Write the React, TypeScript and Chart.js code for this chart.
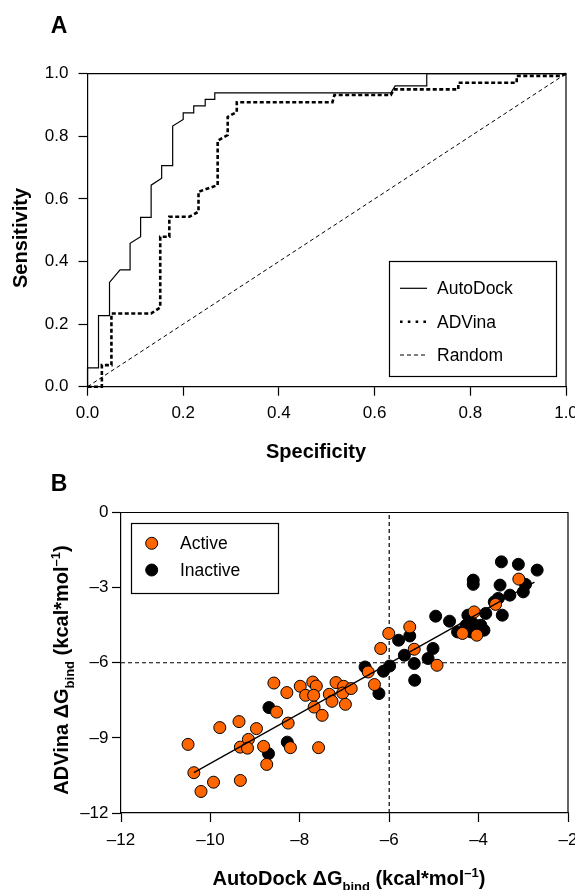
import React, { useEffect, useRef } from "react";
import { Chart, registerables } from "chart.js";

Chart.register(...registerables);

const FONT = "'Liberation Sans', Arial, Helvetica, sans-serif";

// ---- Panel A: ROC curves ----
const autodockSpec = [0, 0, 0.023, 0.023, 0.046, 0.046, 0.068, 0.089, 0.089, 0.111, 0.111, 0.133, 0.133, 0.155, 0.155, 0.178, 0.178, 0.2, 0.2, 0.222, 0.222, 0.246, 0.246, 0.266, 0.266, 0.634, 0.643, 0.709, 0.709, 1.0];
const autodockSens = [0, 0.06, 0.06, 0.227, 0.227, 0.333, 0.373, 0.373, 0.458, 0.479, 0.541, 0.541, 0.644, 0.666, 0.706, 0.706, 0.833, 0.854, 0.875, 0.875, 0.897, 0.897, 0.918, 0.918, 0.939, 0.939, 0.961, 0.961, 1.0, 1.0];
const advinaSpec = [0, 0.03, 0.03, 0.05, 0.05, 0.133, 0.152, 0.152, 0.171, 0.171, 0.213, 0.232, 0.232, 0.272, 0.272, 0.293, 0.293, 0.312, 0.312, 0.512, 0.516, 0.634, 0.64, 0.775, 0.775, 0.897, 0.897, 0.99, 1.0];
const advinaSens = [0, 0, 0.069, 0.069, 0.234, 0.234, 0.253, 0.479, 0.479, 0.543, 0.543, 0.559, 0.623, 0.644, 0.786, 0.804, 0.862, 0.878, 0.909, 0.909, 0.932, 0.932, 0.95, 0.95, 0.971, 0.971, 0.993, 0.993, 1.0];
const randomSpec = [0, 1];
const randomSens = [0, 1];
const rocTicks = [0, 0.2, 0.4, 0.6, 0.8, 1.0];
const rocLegend = ["AutoDock", "ADVina", "Random"];

// ---- Panel B: binding free energies (kcal/mol) ----
const activeAutoDock = [-10.5, -10.37, -10.21, -9.93, -9.79, -9.36, -9.33, -9.33, -9.15, -9.17, -8.97, -8.81, -8.74, -8.58, -8.52, -8.29, -8.26, -8.21, -7.99, -7.87, -7.71, -7.63, -7.69, -7.68, -7.5, -7.58, -7.34, -7.28, -7.19, -7.02, -7.04, -6.98, -6.85, -6.47, -6.33, -6.19, -6.01, -5.54, -5.44, -4.93, -4.36, -4.04, -4.1, -3.62, -3.1];
const activeVina = [-9.26, -10.39, -11.14, -10.77, -8.59, -8.35, -10.7, -9.37, -9.06, -9.41, -8.63, -9.34, -10.06, -6.81, -7.97, -7.19, -8.41, -9.39, -6.94, -7.3, -6.77, -6.93, -7.3, -7.77, -8.1, -9.39, -7.26, -7.54, -6.79, -6.94, -7.21, -7.66, -7.03, -6.37, -6.87, -5.43, -4.83, -4.57, -5.46, -6.1, -4.83, -4.9, -3.97, -3.67, -2.66];
const inactiveAutoDock = [-8.69, -8.7, -8.28, -6.54, -6.23, -6.13, -5.99, -5.79, -5.54, -5.66, -5.44, -5.43, -5.02, -5.13, -4.96, -4.65, -4.47, -4.24, -4.13, -3.95, -3.88, -3.84, -3.47, -3.65, -3.56, -3.3, -3.0, -2.95, -3.52, -4.12, -4.12, -3.49, -3.11, -2.69, -4.28, -4.17];
const inactiveVina = [-7.79, -9.63, -9.17, -6.17, -7.23, -6.34, -6.13, -5.1, -4.93, -5.7, -6.03, -6.7, -5.43, -5.83, -4.14, -4.34, -4.77, -4.1, -4.43, -4.5, -4.7, -4.03, -4.1, -3.57, -3.43, -3.3, -3.17, -2.87, -2.9, -2.7, -2.87, -1.97, -2.07, -2.3, -4.5, -4.77];
const fitAutoDock = [-10.37, -2.75];
const fitVina = [-10.39, -2.78];
const cutoff = -6;
const dgTicksX = [-12, -10, -8, -6, -4, -2];
const dgTicksY = [-12, -9, -6, -3, 0];
const dgLegend = ["Active", "Inactive"];

const ORANGE = "#ff6600";

const zip = (xs: number[], ys: number[]) => xs.map((x, i) => ({ x, y: ys[i] }));
const dash = (v: number) => String(v).replace("-", "\u2013");

type Part = { t: string; size: number; dy: number };

function drawRich(ctx: CanvasRenderingContext2D, parts: Part[], cx: number, cy: number, rotate: boolean) {
  ctx.save();
  ctx.fillStyle = "#000";
  ctx.textBaseline = "alphabetic";
  ctx.textAlign = "left";
  let total = 0;
  const widths = parts.map((p) => {
    ctx.font = `bold ${p.size}px ${FONT}`;
    const w = ctx.measureText(p.t).width;
    total += w;
    return w;
  });
  ctx.translate(cx, cy);
  if (rotate) ctx.rotate(-Math.PI / 2);
  let x = -total / 2;
  parts.forEach((p, i) => {
    ctx.font = `bold ${p.size}px ${FONT}`;
    ctx.fillText(p.t, x, p.dy);
    x += widths[i];
  });
  ctx.restore();
}

function frame(ctx: CanvasRenderingContext2D, a: { left: number; top: number; right: number; bottom: number }) {
  ctx.save();
  ctx.strokeStyle = "#000";
  ctx.lineWidth = 1.2;
  ctx.beginPath();
  ctx.moveTo(a.left, a.top);
  ctx.lineTo(a.right, a.top);
  ctx.lineTo(a.right, a.bottom);
  ctx.stroke();
  ctx.restore();
}

const gridStyle = { display: true, drawOnChartArea: false, drawTicks: true, tickLength: 9, tickColor: "#000", tickWidth: 1.2 };
const borderStyle = { display: true, color: "#000", width: 1.2 };

// keep the plot area fixed: no extra room for overhanging end labels
const noSidePad = (s: any) => {
  s.paddingLeft = 0;
  s.paddingRight = 0;
};
const noEndPad = (s: any) => {
  s.paddingTop = 0;
  s.paddingBottom = 0;
};

function RocChart() {
  const ref = useRef<HTMLCanvasElement>(null);
  useEffect(() => {
    const canvas = ref.current!;
    const deco = {
      id: "rocDeco",
      afterDraw(chart: any) {
        const ctx = chart.ctx as CanvasRenderingContext2D;
        frame(ctx, chart.chartArea);
        // legend
        ctx.save();
        ctx.strokeStyle = "#000";
        ctx.lineWidth = 1.2;
        ctx.strokeRect(389.5, 261.5, 167, 115);
        const rows = [288.3, 321.7, 355];
        const styles = [
          { w: 1.2, d: [] as number[] },
          { w: 2.6, d: [2.6, 5.2] },
          { w: 1, d: [4, 3] },
        ];
        rocLegend.forEach((label, i) => {
          ctx.beginPath();
          ctx.lineWidth = styles[i].w;
          ctx.setLineDash(styles[i].d);
          ctx.moveTo(400, rows[i]);
          ctx.lineTo(427, rows[i]);
          ctx.stroke();
          ctx.setLineDash([]);
          ctx.fillStyle = "#000";
          ctx.font = `17.5px ${FONT}`;
          ctx.textBaseline = "middle";
          ctx.textAlign = "left";
          ctx.fillText(label, 437, rows[i] + 1);
        });
        ctx.restore();
        // panel letter and axis titles
        drawRich(ctx, [{ t: "A", size: 23, dy: 0 }], 59, 33, false);
        drawRich(ctx, [{ t: "Sensitivity", size: 20, dy: 0 }], 26.5, 238, true);
        drawRich(ctx, [{ t: "Specificity", size: 20, dy: 0 }], 316, 458, false);
      },
    };
    const chart = new Chart(canvas, {
      type: "scatter",
      data: {
        datasets: [
          { label: rocLegend[0], data: zip(autodockSpec, autodockSens), showLine: true, borderColor: "#000", borderWidth: 1.2, pointRadius: 0, clip: false } as any,
          { label: rocLegend[1], data: zip(advinaSpec, advinaSens), showLine: true, borderColor: "#000", borderWidth: 2.6, borderDash: [4, 2.5], pointRadius: 0, clip: false } as any,
          { label: rocLegend[2], data: zip(randomSpec, randomSens), showLine: true, borderColor: "#000", borderWidth: 1, borderDash: [4, 3], pointRadius: 0, clip: false } as any,
        ],
      },
      options: {
        animation: false,
        responsive: false,
        maintainAspectRatio: false,
        layout: { padding: { top: 73.7, right: 9, left: 0, bottom: 0 } },
        plugins: { legend: { display: false }, tooltip: { enabled: false } },
        events: [],
        scales: {
          x: {
            type: "linear",
            min: 0,
            max: 1,
            grid: gridStyle,
            border: borderStyle,
            afterBuildTicks: (s: any) => { s.ticks = rocTicks.map((v) => ({ value: v })); },
            afterFit: (s: any) => { s.height = 470 - 386.7; noSidePad(s); },
            ticks: { color: "#000", font: { family: FONT, size: 17 }, padding: 7, callback: (v: any) => Number(v).toFixed(1) },
          } as any,
          y: {
            type: "linear",
            min: 0,
            max: 1,
            grid: gridStyle,
            border: borderStyle,
            afterBuildTicks: (s: any) => { s.ticks = rocTicks.map((v) => ({ value: v })); },
            afterFit: (s: any) => { s.width = 87.5; noEndPad(s); },
            ticks: { color: "#000", font: { family: FONT, size: 17 }, padding: 10, callback: (v: any) => Number(v).toFixed(1) },
          } as any,
        },
      },
      plugins: [deco],
    });
    return () => chart.destroy();
  }, []);
  return <canvas ref={ref} width={575} height={470} style={{ position: "absolute", left: 0, top: 0, width: 575, height: 470 }} />;
}

function EnergyChart() {
  const ref = useRef<HTMLCanvasElement>(null);
  useEffect(() => {
    const canvas = ref.current!;
    const deco = {
      id: "dgDeco",
      afterDraw(chart: any) {
        const ctx = chart.ctx as CanvasRenderingContext2D;
        frame(ctx, chart.chartArea);
        // legend
        ctx.save();
        ctx.strokeStyle = "#000";
        ctx.lineWidth = 1.2;
        ctx.strokeRect(131.5, 53.5, 147, 70);
        const rows = [73.3, 100];
        const fills = [ORANGE, "#000"];
        dgLegend.forEach((label, i) => {
          ctx.beginPath();
          ctx.arc(151.7, rows[i], 6, 0, Math.PI * 2);
          ctx.fillStyle = fills[i];
          ctx.fill();
          ctx.lineWidth = 1;
          ctx.strokeStyle = "#000";
          ctx.stroke();
          ctx.fillStyle = "#000";
          ctx.font = `17.5px ${FONT}`;
          ctx.textBaseline = "middle";
          ctx.textAlign = "left";
          ctx.fillText(label, 180, rows[i] + 1);
        });
        ctx.restore();
        drawRich(ctx, [{ t: "B", size: 23, dy: 0 }], 59, 21, false);
        drawRich(
          ctx,
          [
            { t: "ADVina \u0394G", size: 20, dy: 0 },
            { t: "bind", size: 13, dy: 6 },
            { t: " (kcal*mol", size: 20, dy: 0 },
            { t: "\u20131", size: 13, dy: -8 },
            { t: ")", size: 20, dy: 0 },
          ],
          68,
          200,
          true
        );
        drawRich(
          ctx,
          [
            { t: "AutoDock \u0394G", size: 20, dy: 0 },
            { t: "bind", size: 13, dy: 6 },
            { t: " (kcal*mol", size: 20, dy: 0 },
            { t: "\u20131", size: 13, dy: -8 },
            { t: ")", size: 20, dy: 0 },
          ],
          349,
          415,
          false
        );
      },
    };
    const chart = new Chart(canvas, {
      type: "scatter",
      data: {
        datasets: [
          { label: "fit", data: zip(fitAutoDock, fitVina), showLine: true, borderColor: "#000", borderWidth: 1.3, pointRadius: 0 } as any,
          { label: dgLegend[0], data: zip(activeAutoDock, activeVina), backgroundColor: ORANGE, borderColor: "#000", borderWidth: 1, pointRadius: 6 } as any,
          { label: dgLegend[1], data: zip(inactiveAutoDock, inactiveVina), backgroundColor: "#000", borderColor: "#000", borderWidth: 1, pointRadius: 6 } as any,
          { label: "cutX", data: [{ x: cutoff, y: -12 }, { x: cutoff, y: 0 }], showLine: true, borderColor: "#000", borderWidth: 1.2, borderDash: [4, 3], pointRadius: 0 } as any,
          { label: "cutY", data: [{ x: -12, y: cutoff }, { x: -2, y: cutoff }], showLine: true, borderColor: "#000", borderWidth: 1.2, borderDash: [4, 3], pointRadius: 0 } as any,
        ],
      },
      options: {
        animation: false,
        responsive: false,
        maintainAspectRatio: false,
        layout: { padding: { top: 42.5, right: 4.5, left: 0, bottom: 0 } },
        plugins: { legend: { display: false }, tooltip: { enabled: false } },
        events: [],
        scales: {
          x: {
            type: "linear",
            min: -12,
            max: -2,
            grid: gridStyle,
            border: borderStyle,
            afterBuildTicks: (s: any) => { s.ticks = dgTicksX.map((v) => ({ value: v })); },
            afterFit: (s: any) => { s.height = 420 - 343; noSidePad(s); },
            ticks: { color: "#000", font: { family: FONT, size: 17 }, padding: 8, callback: (v: any) => dash(Number(v)) },
          } as any,
          y: {
            type: "linear",
            min: -12,
            max: 0,
            grid: gridStyle,
            border: borderStyle,
            afterBuildTicks: (s: any) => { s.ticks = dgTicksY.map((v) => ({ value: v })); },
            afterFit: (s: any) => { s.width = 121; noEndPad(s); },
            ticks: { color: "#000", font: { family: FONT, size: 17 }, padding: 3.5, callback: (v: any) => dash(Number(v)) },
          } as any,
        },
      },
      plugins: [deco],
    });
    return () => chart.destroy();
  }, []);
  return <canvas ref={ref} width={575} height={420} style={{ position: "absolute", left: 0, top: 470, width: 575, height: 420 }} />;
}

export default function App() {
  return (
    <div style={{ position: "fixed", left: 0, top: 0, width: 575, height: 890, background: "#fff", overflow: "hidden" }}>
      <RocChart />
      <EnergyChart />
    </div>
  );
}
